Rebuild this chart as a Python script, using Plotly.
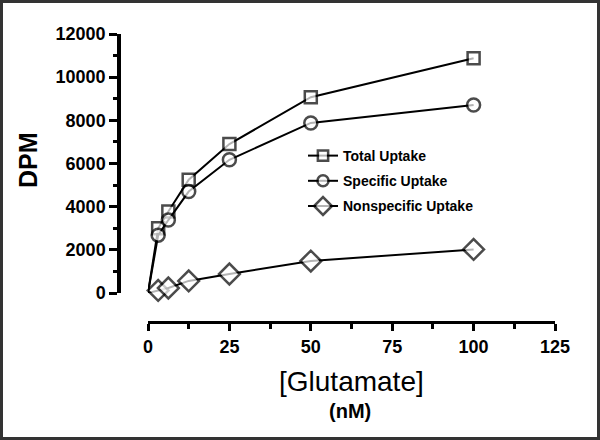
import plotly.graph_objects as go

# [Glutamate] (nM) and DPM readings
conc = [0, 3.125, 6.25, 12.5, 25, 50, 100]
total_uptake = [0, 3000, 3780, 5250, 6900, 9070, 10880]
specific_uptake = [0, 2680, 3380, 4700, 6170, 7880, 8710]
nonspecific_uptake = [0, 120, 230, 560, 880, 1480, 2020]

x_ticks = [0, 25, 50, 75, 100, 125]
y_ticks = [0, 2000, 4000, 6000, 8000, 10000, 12000]

W, H = 600, 440
ml, mr, mt, mb = 119, 45, 34, 118
pw, ph = W - ml - mr, H - mt - mb

font_family = "Arial, Liberation Sans, sans-serif"

series = [
    ("Total Uptake", total_uptake, "square", 12),
    ("Specific Uptake", specific_uptake, "circle", 13),
    ("Nonspecific Uptake", nonspecific_uptake, "diamond", 16),
]

fig = go.Figure()
for name, vals, sym, sz in series:
    fig.add_trace(go.Scatter(
        x=conc, y=vals, name=name, mode="lines+markers", legendgroup=name,
        line=dict(color="black", width=2),
        marker=dict(symbol=sym, size=[0] + [sz] * (len(conc) - 1),
                    color="white", line=dict(width=2.5, color="black")),
        cliponaxis=False,
    ))


def px_x(p):
    return (p - ml) / pw


def px_y(p):
    return (H - mb - p) / ph


fig.update_layout(
    width=W, height=H,
    margin=dict(l=ml, r=mr, t=mt, b=mb, autoexpand=False),
    plot_bgcolor="white", paper_bgcolor="white",
    font=dict(family=font_family, color="black"),
    showlegend=True,
    legend=dict(
        x=px_x(303), y=px_y(140), xanchor="left", yanchor="top",
        bgcolor="rgba(0,0,0,0)", font=dict(size=14, weight="bold"),
        itemwidth=30, tracegroupgap=4, traceorder="grouped",
    ),
)

# offset axes: x axis starts right of the y axis, y axis ends above the x axis
fig.update_xaxes(
    range=[0, 125], tickvals=x_ticks, showgrid=False, zeroline=False,
    domain=[px_x(148), 1],
    showline=True, linecolor="black", linewidth=3,
    ticks="outside", ticklen=7, tickwidth=3, tickcolor="black",
    minor=dict(dtick=12.5, tick0=0, ticks="outside", ticklen=5, tickwidth=3, tickcolor="black"),
    tickfont=dict(size=18, weight="bold"),
    anchor="free", position=0,
)
fig.update_yaxes(
    range=[0, 12000], tickvals=y_ticks, tickformat="d", showgrid=False, zeroline=False,
    domain=[px_y(293), 1],
    showline=True, linecolor="black", linewidth=3.5,
    ticks="outside", ticklen=8, tickwidth=3, tickcolor="black",
    minor=dict(dtick=1000, tick0=0, ticks="outside", ticklen=4, tickwidth=3, tickcolor="black"),
    tickfont=dict(size=18, weight="bold"),
    anchor="free", position=0,
)

fig.add_annotation(text="DPM", x=px_x(28), y=px_y(160), xref="paper", yref="paper",
                   xanchor="center", yanchor="middle",
                   showarrow=False, textangle=-90, font=dict(size=25, weight="bold"))
fig.add_annotation(text="[Glutamate]", x=px_x(351), y=px_y(381), xref="paper", yref="paper",
                   xanchor="center", yanchor="middle",
                   showarrow=False, font=dict(size=28))
fig.add_annotation(text="(nM)", x=px_x(350), y=px_y(411), xref="paper", yref="paper",
                   xanchor="center", yanchor="middle",
                   showarrow=False, font=dict(size=20, weight="bold"))

# outer dark frame
fig.add_shape(type="rect", xref="paper", yref="paper",
              x0=px_x(1.5), x1=px_x(W - 1.5), y0=px_y(H - 1.5), y1=px_y(1.5),
              line=dict(color="#333333", width=3), layer="above")

fig.write_html("out.html", config={"displayModeBar": False},
               post_script="document.body.style.margin='0';")
